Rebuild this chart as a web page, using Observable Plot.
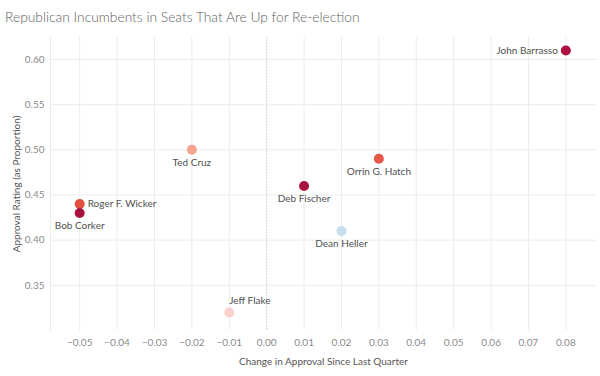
<!DOCTYPE html>
<html>
<head>
<meta charset="utf-8">
<script src="https://cdn.jsdelivr.net/npm/d3@7"></script>
<script src="https://cdn.jsdelivr.net/npm/@observablehq/plot@0.6"></script>
<style>
  html, body { margin: 0; padding: 0; background: #fff; }
  body { width: 600px; height: 376px; overflow: hidden; font-family: Lato, "Open Sans", sans-serif; }
  #title { height: 32px; box-sizing: border-box; padding: 8px 0 0 5px; font-size: 13.8px; color: #606060; font-weight: 300; white-space: nowrap; }
</style>
</head>
<body>
<div id="title">Republican Incumbents in Seats That Are Up for Re-election</div>
<div id="chart"></div>
<script>
const senators = ["John Barrasso", "Ted Cruz", "Orrin G. Hatch", "Deb Fischer", "Roger F. Wicker", "Bob Corker", "Dean Heller", "Jeff Flake"];
const approvalChange = [0.08, -0.02, 0.03, 0.01, -0.05, -0.05, 0.02, -0.01];
const approvalRating = [0.61, 0.50, 0.49, 0.46, 0.44, 0.43, 0.41, 0.32];
const dotColors = ["#ad1040", "#f6a392", "#e5574a", "#a8123f", "#e2503f", "#a8123f", "#c6dded", "#fad2cd"];
const labelSide = ["left", "below", "below", "below", "right", "below", "below", "above"];
const xTicks = [-0.05, -0.04, -0.03, -0.02, -0.01, 0.00, 0.01, 0.02, 0.03, 0.04, 0.05, 0.06, 0.07, 0.08];
const yTicks = [0.35, 0.40, 0.45, 0.50, 0.55, 0.60];

const data = senators.map((name, i) => ({
  name, x: approvalChange[i], y: approvalRating[i], color: dotColors[i], side: labelSide[i]
}));
const by = side => data.filter(d => d.side === side);
const labelStyle = {x: "x", y: "y", text: "name", fill: "#505050", fontSize: 10};

const chart = Plot.plot({
  width: 600,
  height: 344,
  marginTop: 5,
  marginBottom: 46,
  marginLeft: 50,
  marginRight: 4,
  style: {fontFamily: "Lato, 'Open Sans', sans-serif", fontSize: "10px", background: "#fff"},
  x: {domain: [-0.0578, 0.0882]},
  y: {domain: [0.300, 0.6243]},
  marks: [
    Plot.gridX(xTicks, {stroke: "#ececec", strokeOpacity: 1}),
    Plot.gridY(yTicks, {stroke: "#ececec", strokeOpacity: 1}),
    Plot.frame({anchor: "left", stroke: "#ececec"}),
    Plot.ruleX([0], {stroke: "#c8c8c8", strokeDasharray: "1,2"}),
    Plot.axisX(xTicks, {tickSize: 0, tickPadding: 8, tickFormat: d3.format(".2f"), fill: "#8a8a8a", fontSize: 10, label: null}),
    Plot.axisX([], {tickSize: 0, fill: "#555", fontSize: 10,
      label: "Change in Approval Since Last Quarter", labelAnchor: "center", labelOffset: 34, labelArrow: "none"}),
    Plot.axisY(yTicks, {tickSize: 0, tickPadding: 6, tickFormat: d3.format(".2f"), fill: "#8a8a8a", fontSize: 10, label: null}),
    Plot.axisY([], {tickSize: 0, fill: "#555", fontSize: 10,
      label: "Approval Rating (as Proportion)", labelAnchor: "center", labelOffset: 38, labelArrow: "none"}),
    Plot.dot(data, {x: "x", y: "y", r: 5, fill: "color", stroke: "none"}),
    Plot.text(by("below"), {...labelStyle, dy: 13}),
    Plot.text(by("left"), {...labelStyle, dx: -8, textAnchor: "end"}),
    Plot.text(by("right"), {...labelStyle, dx: 8, textAnchor: "start"}),
    Plot.text(by("above"), {...labelStyle, dy: -12, textAnchor: "start"})
  ]
});
document.getElementById("chart").appendChild(chart);
</script>
</body>
</html>
